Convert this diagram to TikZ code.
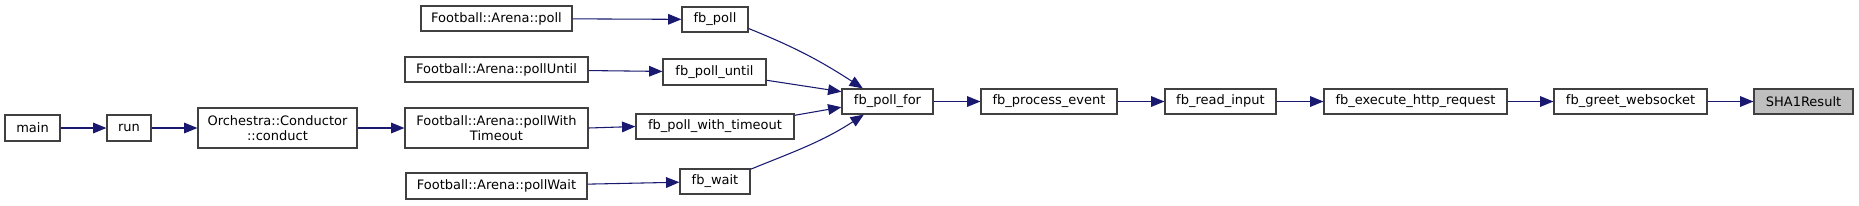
\documentclass[tikz,border=0pt]{standalone}
\usepackage{fontspec}
\setmainfont{DejaVu Sans}
\usetikzlibrary{arrows.meta}
\definecolor{edgeblue}{HTML}{191970}
\definecolor{boxline}{HTML}{404040}
\definecolor{hilite}{HTML}{BFBFBF}
\begin{document}
\begin{tikzpicture}[x=0.75pt,y=-0.75pt,
  fn/.style={draw=boxline,line width=0.9pt,fill=white,inner sep=0pt,align=center,
    font=\fontsize{9.75}{11.5}\selectfont},
  call/.style={draw=edgeblue,line width=0.8pt,-{Triangle[length=10pt,width=8pt]}}]
\useasboundingbox (0,0) rectangle (1859,205);
% nodes
\node[fn,minimum width=41.25pt,minimum height=19.5pt] (main) at (32.5,128) {main};
\node[fn,minimum width=33pt,minimum height=19.5pt] (run) at (129,128) {run};
\node[fn,minimum width=119.25pt,minimum height=30pt] (cond) at (277.5,128) {Orchestra::Conductor\\::conduct};
\node[fn,minimum width=113.25pt,minimum height=18.75pt] (fapoll) at (496.5,18.5) {Football::Arena::poll};
\node[fn,minimum width=137.25pt,minimum height=18.75pt] (fauntil) at (496.5,69.5) {Football::Arena::pollUntil};
\node[fn,minimum width=137.25pt,minimum height=30pt] (fatimeout) at (496.5,128) {Football::Arena::pollWith\\Timeout};
\node[fn,minimum width=135.75pt,minimum height=19.5pt] (fawait) at (496.5,186) {Football::Arena::pollWait};
\node[fn,minimum width=49.5pt,minimum height=18.75pt] (fbpoll) at (715,19.5) {fb\_poll};
\node[fn,minimum width=77.25pt,minimum height=19.5pt] (fbuntil) at (714.5,72) {fb\_poll\_until};
\node[fn,minimum width=118.5pt,minimum height=18.75pt] (fbtimeout) at (715,126.5) {fb\_poll\_with\_timeout};
\node[fn,minimum width=52.5pt,minimum height=18.75pt] (fbwait) at (715,181.5) {fb\_wait};
\node[fn,minimum width=68.25pt,minimum height=18.75pt] (fbfor) at (887.5,101.5) {fb\_poll\_for};
\node[fn,minimum width=102pt,minimum height=18.75pt] (fbproc) at (1049,101.5) {fb\_process\_event};
\node[fn,minimum width=83.25pt,minimum height=18.75pt] (fbread) at (1220.5,101.5) {fb\_read\_input};
\node[fn,minimum width=137.25pt,minimum height=18.75pt] (fbexec) at (1415.5,101.5) {fb\_execute\_http\_request};
\node[fn,minimum width=114.75pt,minimum height=18.75pt] (fbgreet) at (1630.5,101.5) {fb\_greet\_websocket};
\node[fn,fill=hilite,minimum width=74.25pt,minimum height=18.75pt] (sha) at (1803.5,101.5) {SHA1Result};
% edges
\draw[call] (main) -- (run);
\draw[call] (run) -- (cond);
\draw[call] (cond) -- (fatimeout);
\draw[call] (fapoll) -- (fbpoll);
\draw[call] (fauntil) -- (fbuntil);
\draw[call] (fatimeout.east) -- (fbtimeout.west);
\draw[call] (fawait) -- (fbwait);
\draw[call] (fbpoll.-15) to[out=-22,in=147] (fbfor.152);
\draw[call] (fbuntil.-9) -- (fbfor.168);
\draw[call] (fbtimeout.8) -- (fbfor.187);
\draw[call] (fbwait.19) to[out=22,in=-147] (fbfor.209);
\draw[call] (fbfor) -- (fbproc);
\draw[call] (fbproc) -- (fbread);
\draw[call] (fbread) -- (fbexec);
\draw[call] (fbexec) -- (fbgreet);
\draw[call] (fbgreet) -- (sha);
\end{tikzpicture}
\end{document}
